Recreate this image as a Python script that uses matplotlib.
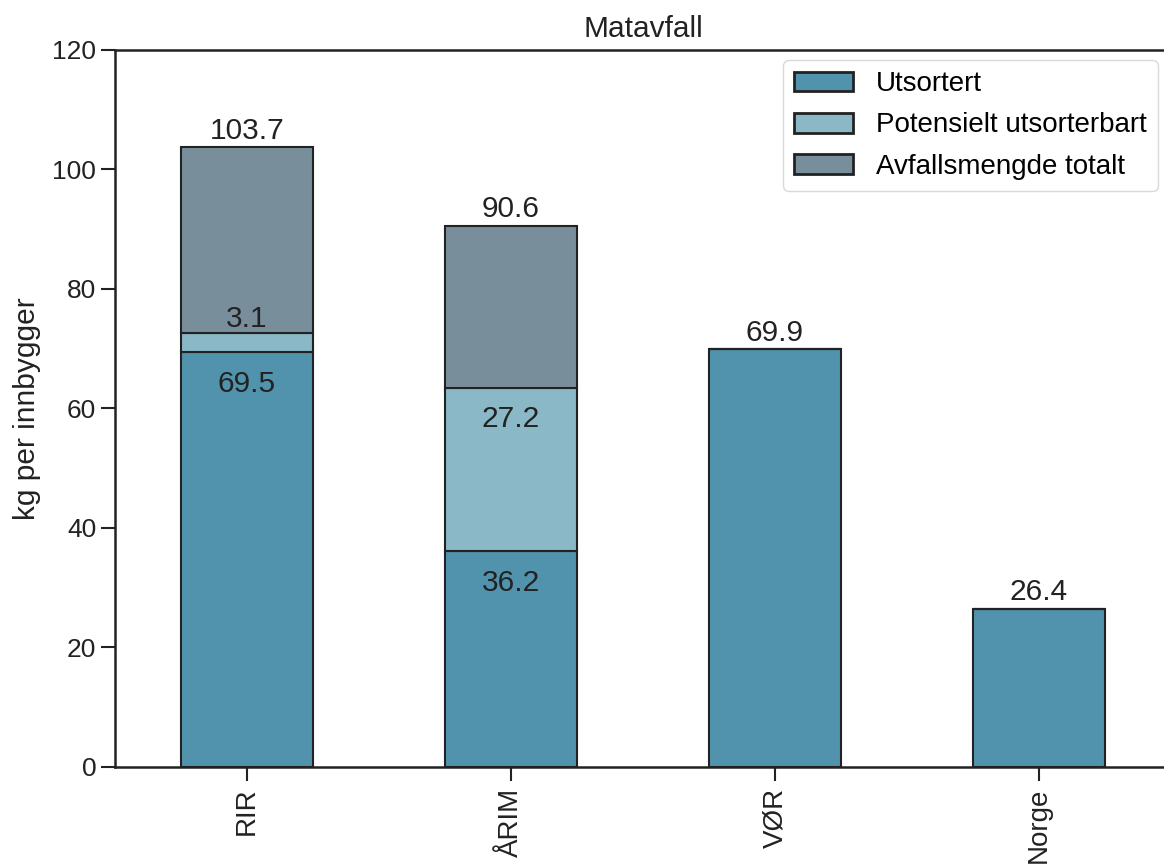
import numpy as np
import matplotlib.pyplot as plt

plt.rcParams['font.family'] = ['Liberation Sans', 'DejaVu Sans']

# Data
kommuner = ['RIR', 'ÅRIM', 'VØR', 'Norge']
utsortert = [69.5, 36.2, 69.9, 26.4]
potensielt = [3.1, 27.2, 0.0, 0.0]
totalt = [103.7, 90.6, 69.9, 26.4]

farger = ['#5193ad', '#8ab8c6', '#788f9b']

rest = [t - u - p for t, u, p in zip(totalt, utsortert, potensielt)]
bunn2 = [u + p for u, p in zip(utsortert, potensielt)]

fig = plt.figure(figsize=(11.64, 8.65), dpi=100)
# figuren er beskåret til høyre og nederst, som i originalen
ax = fig.add_axes([0.0988, 0.1133, 0.9072, 0.8289])

x = np.arange(len(kommuner))
b = 0.5
ax.bar(x, utsortert, b, color=farger[0], edgecolor='#222222', linewidth=1.5, label='Utsortert')
ax.bar(x, potensielt, b, bottom=utsortert, color=farger[1], edgecolor='#222222', linewidth=1.5,
       label='Potensielt utsorterbart')
ax.bar(x, rest, b, bottom=bunn2, color=farger[2], edgecolor='#222222', linewidth=1.5,
       label='Avfallsmengde totalt')

fs = 21.5
tc = '#222222'
for i in range(len(kommuner)):
    if totalt[i] - utsortert[i] > 0.05:
        ax.annotate(f'{utsortert[i]:.1f}', (x[i], utsortert[i]), xytext=(0, -13),
                    textcoords='offset points', ha='center', va='top', fontsize=fs, color=tc)
        if potensielt[i] < 10:
            ax.annotate(f'{potensielt[i]:.1f}', (x[i], bunn2[i]), xytext=(0, 0),
                        textcoords='offset points', ha='center', va='bottom', fontsize=fs, color=tc)
        else:
            ax.annotate(f'{potensielt[i]:.1f}', (x[i], bunn2[i]), xytext=(0, -12),
                        textcoords='offset points', ha='center', va='top', fontsize=fs, color=tc)
    ax.annotate(f'{totalt[i]:.1f}', (x[i], totalt[i]), xytext=(0, 2),
                textcoords='offset points', ha='center', va='bottom', fontsize=fs, color=tc)

ax.set_xlim(-0.5, 3.5)
ax.set_ylim(0, 120)
ax.set_yticks(range(0, 121, 20))
ax.set_xticks(x)
ax.set_xticklabels(kommuner, rotation=90)
ax.tick_params(labelsize=19, width=1.5, length=10, colors=tc)
ax.tick_params(axis='x', labelsize=20, pad=5)
ax.set_ylabel('kg per innbygger', fontsize=fs, color=tc, labelpad=8)
ax.set_title('Matavfall', fontsize=fs, color=tc, pad=9)
for s in ax.spines.values():
    s.set_linewidth(1.8)
    s.set_color(tc)

leg = ax.legend(loc='upper right', fontsize=20, frameon=True, fancybox=True,
                handlelength=2.1, handleheight=0.72, handletextpad=0.85, labelspacing=0.55,
                borderpad=0.4, borderaxespad=0, bbox_to_anchor=(0.9877, 0.986))
leg.get_frame().set_edgecolor('#d0d0d0')
for h in leg.legend_handles:
    h.set_linewidth(2)

fig.savefig('out.png', dpi=100)
